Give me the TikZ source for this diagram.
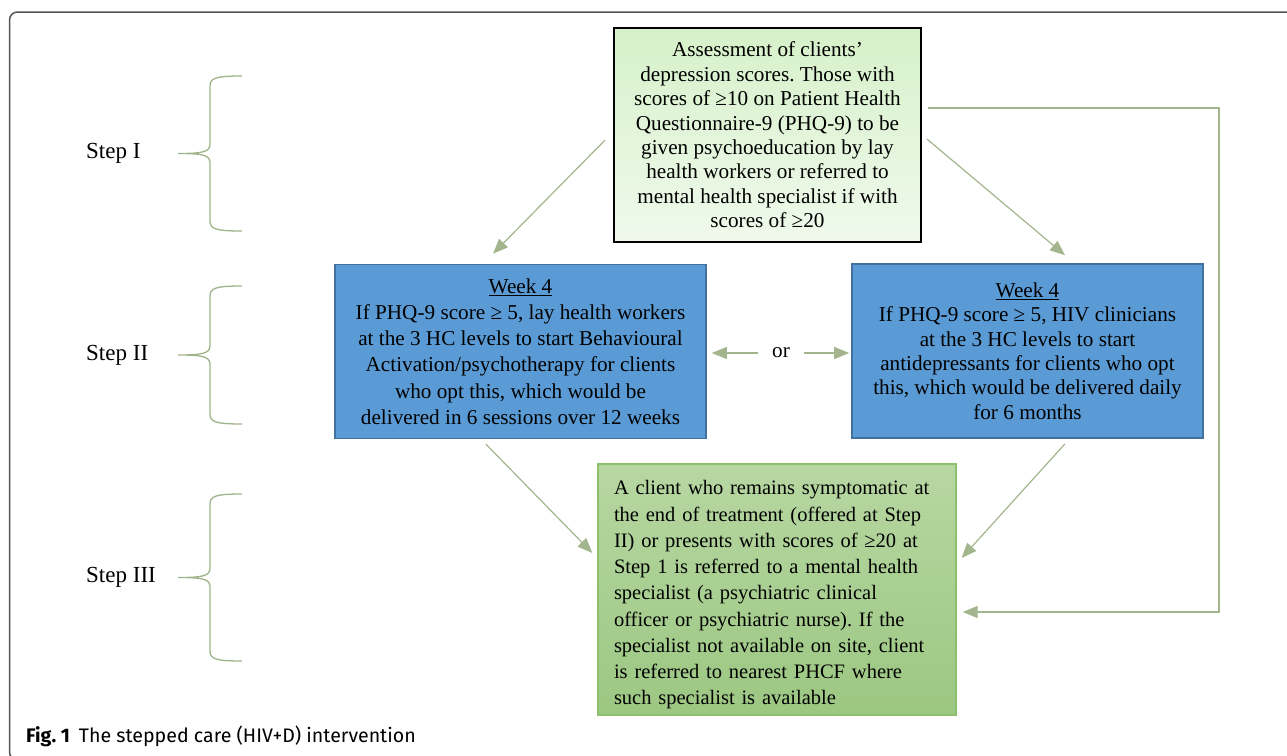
\documentclass[tikz,border=0pt]{standalone}
\usepackage{fontspec}
\setmainfont{Liberation Serif}
\newfontfamily\capfont{Fira Sans}
\usetikzlibrary{arrows.meta,calc}
\frenchspacing

\definecolor{linkgreen}{HTML}{A2B58D}
\definecolor{bracegreen}{HTML}{9FB38B}
\definecolor{paleA}{HTML}{D6F1C9}
\definecolor{paleB}{HTML}{EFF9EC}
\definecolor{boxblue}{HTML}{5B9BD5}
\definecolor{edgeblue}{HTML}{41719C}
\definecolor{midA}{HTML}{B7D7A2}
\definecolor{midB}{HTML}{9CC782}
\definecolor{midedge}{HTML}{8DC06B}
\definecolor{framegray}{HTML}{555555}

\def\bodyfont{\fontsize{21.2}{24.4}\selectfont}
\def\loosefont{\fontsize{21.2}{26.3}\selectfont}
\def\referfont{\fontsize{20.5}{26.25}\selectfont}

\begin{document}
\begin{tikzpicture}[x=1pt,y=-1pt,
    link/.style={draw=linkgreen,line width=1.2pt,-{Triangle[length=15pt,width=12pt]}},
    stepbrace/.style={draw=bracegreen,line width=1.3pt},
    assessbox/.style={draw=black,line width=1.8pt,top color=paleA,bottom color=paleB,
      minimum width=307pt,minimum height=214pt,align=center,font=\bodyfont},
    weekbox/.style={draw=edgeblue,line width=1.6pt,fill=boxblue,align=center,
      minimum height=174pt},
    referbox/.style={draw=midedge,line width=1.3pt,top color=midA,bottom color=midB,
      text width=326pt,inner xsep=16pt,minimum height=251pt,align=left,font=\referfont}]
  \useasboundingbox (0,0) rectangle (1287,755);
  \draw[framegray,line width=1.5pt,rounded corners=8pt] (1290,12) -- (9.5,12)
    -- (9.5,760) -- (40,760);

  \foreach \lbl/\ytop/\ybot in {I/76/231, II/286/424, III/494/661} {
    \pgfmathsetmacro\ymid{0.5*(\ytop+\ybot)}
    \node[anchor=west,font=\fontsize{23}{27}\selectfont,inner sep=0]
      (step\lbl) at (86,\ymid) {Step \lbl};
    \draw[stepbrace] (242,\ytop) .. controls (216,\ytop) and (210,\ytop+2) .. (210,\ytop+10)
      -- (210,\ymid-9) .. controls (210,\ymid-1) and (200,\ymid) .. (178,\ymid)
      .. controls (200,\ymid) and (210,\ymid+1) .. (210,\ymid+9)
      -- (210,\ybot-10) .. controls (210,\ybot-2) and (216,\ybot) .. (242,\ybot);
  }

  \node[assessbox] (assess) at (767.5,135) {Assessment of clients’\\
    depression scores. Those with\\
    scores of ≥10 on Patient Health\\
    Questionnaire-9 (PHQ-9) to be\\
    given psychoeducation by lay\\
    health workers or referred to\\
    mental health specialist if with\\
    scores of ≥20};

  \node[weekbox,minimum width=371pt,font=\loosefont] (lhs) at (520.5,351.5) {\underline{Week 4}\\
    If PHQ-9 score ≥ 5, lay health workers\\
    at the 3 HC levels to start Behavioural\\
    Activation/psychotherapy for clients\\
    who opt this, which would be\\
    delivered in 6 sessions over 12 weeks};

  \node[weekbox,minimum width=351pt,font=\bodyfont] (rhs) at (1027.5,351) {\underline{Week 4}\\
    If PHQ-9 score ≥ 5, HIV clinicians\\
    at the 3 HC levels to start\\
    antidepressants for clients who opt\\
    this, which would be delivered daily\\
    for 6 months};

  \node[font=\bodyfont,minimum width=45pt,inner sep=0] (or) at (781,353) {or};

  \node[referbox] (refer) at (777,589.5) {\rule{0pt}{25pt}A client who remains symptomatic at\\
    the end of treatment (offered at Step\\
    II) or presents with scores of ≥20 at\\
    Step 1 is referred to a mental health\\
    specialist (a psychiatric clinical\\
    officer or psychiatric nurse). If the\\
    specialist not available on site, client\\
    is referred to nearest PHCF where\\
    such specialist is available};

  \draw[link] ([xshift=-8pt,yshift=-5pt]assess.west) -- ([xshift=-27.5pt,yshift=10pt]lhs.north);
  \draw[link] ([xshift=5pt,yshift=-4pt]assess.east) -- ([xshift=37.5pt,yshift=8pt]rhs.north);
  \draw[link] (or.west) -- ([xshift=5pt]lhs.east |- or);
  \draw[link] (or.east) -- ([xshift=-2pt]rhs.west |- or);
  \draw[link] ([xshift=-34.5pt,yshift=-5pt]lhs.south) -- ([xshift=-5pt,yshift=36.5pt]refer.west);
  \draw[link] ([xshift=37.5pt,yshift=-5pt]rhs.south) -- ([xshift=5pt,yshift=31.5pt]refer.east);

  \coordinate (turn) at (1219,612);
  \draw[link] ([xshift=6pt,yshift=27pt]assess.east) -| (turn)
    -- ([xshift=6pt]refer.east |- turn);

  \node[anchor=west,inner sep=0,font=\capfont\fontsize{19.6}{23}\selectfont]
    (caption) at (26,736) {\textbf{Fig. 1}\hspace{9pt}The stepped care (HIV+D) intervention};
\end{tikzpicture}
\end{document}
